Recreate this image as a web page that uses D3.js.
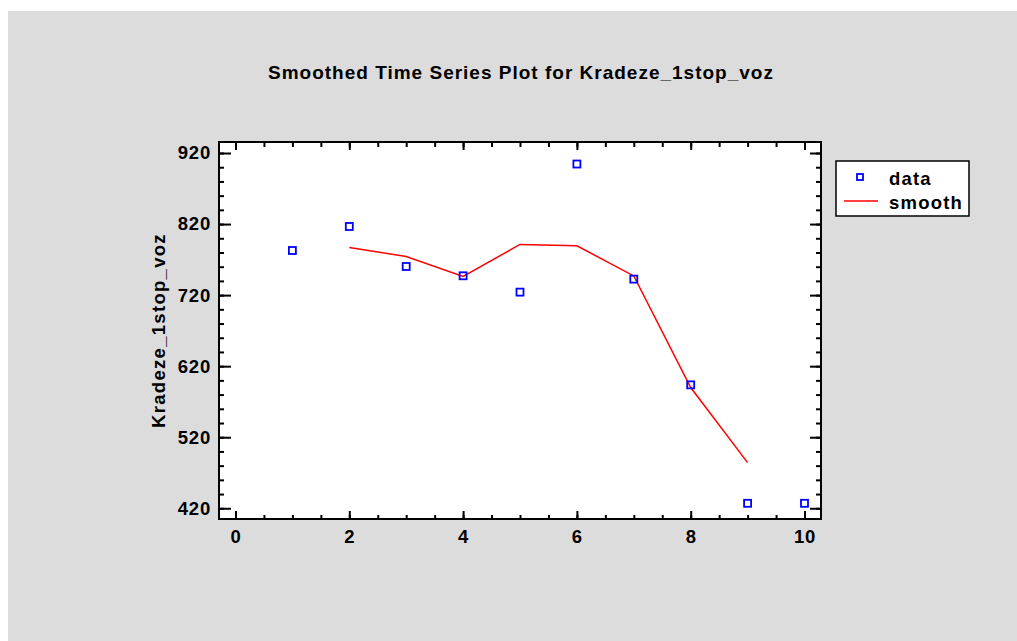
<!DOCTYPE html>
<meta charset="utf-8">
<style>
body { margin: 0; background: #fff; }
text { font-family: "Liberation Sans", Arial, sans-serif; font-weight: bold; fill: #000; }
.axis path.domain { display: none; }
.axis line { stroke: #000; stroke-width: 2; }
.axis text { font-size: 18.5px; letter-spacing: 0.8px; }
</style>
<svg width="1017" height="641"></svg>
<script src="https://d3js.org/d3.v7.min.js"></script>
<script>

// observed series
var periods = [1, 2, 3, 4, 5, 6, 7, 8, 9, 10];
var dataValues = [782.8, 816.6, 760.3, 747.2, 724.2, 904.5, 742.5, 593.7, 427, 427];
// smoothed series (defined for periods 2..9)
var smoothPeriods = [2, 3, 4, 5, 6, 7, 8, 9];
var smoothValues = [787, 774.4, 746.2, 791.3, 789.4, 747, 590, 484.2];

var xTicks = [0, 2, 4, 6, 8, 10];
var yTicks = [420, 520, 620, 720, 820, 920];

var svg = d3.select("svg");

svg.append("rect")
    .attr("x", 8).attr("y", 11)
    .attr("width", 1017 - 8).attr("height", 641 - 11)
    .attr("fill", "#dcdcdc");

var margin = {top: 142, left: 219, right: 1017 - 821, bottom: 641 - 519},
    width = 1017 - margin.left - margin.right,
    height = 641 - margin.top - margin.bottom;

var x = d3.scaleLinear().domain([-0.29, 10.29]).range([0, width]),
    y = d3.scaleLinear().domain([404.9, 935.5]).range([height, 0]);

var g = svg.append("g")
    .attr("transform", "translate(" + margin.left + "," + margin.top + ")");

g.append("rect")
    .attr("width", width).attr("height", height)
    .attr("fill", "#fff");

var xMinor = d3.range(0, 10.01, 0.5),
    yMinor = d3.range(420, 930, 20);

// bottom
g.append("g").attr("class", "axis")
    .attr("transform", "translate(0," + height + ")")
    .call(d3.axisBottom(x).tickValues(xMinor).tickSize(-4).tickFormat(""));
g.append("g").attr("class", "axis")
    .attr("transform", "translate(0," + height + ")")
    .call(d3.axisBottom(x).tickValues(xTicks).tickSize(-8).tickPadding(11).tickFormat(d3.format("d")));
// top
g.append("g").attr("class", "axis")
    .call(d3.axisTop(x).tickValues(xMinor).tickSize(-5).tickFormat(""));
g.append("g").attr("class", "axis")
    .call(d3.axisTop(x).tickValues(xTicks).tickSize(-8).tickFormat(""));
// left
g.append("g").attr("class", "axis")
    .call(d3.axisLeft(y).tickValues(yMinor).tickSize(-5).tickFormat(""));
g.append("g").attr("class", "axis")
    .call(d3.axisLeft(y).tickValues(yTicks).tickSize(-12).tickPadding(8).tickFormat(d3.format("d")));
// right
g.append("g").attr("class", "axis")
    .attr("transform", "translate(" + width + ",0)")
    .call(d3.axisRight(y).tickValues(yMinor).tickSize(-5).tickFormat(""));
g.append("g").attr("class", "axis")
    .attr("transform", "translate(" + width + ",0)")
    .call(d3.axisRight(y).tickValues(yTicks).tickSize(-11).tickFormat(""));

g.append("rect")
    .attr("width", width).attr("height", height)
    .attr("fill", "none").attr("stroke", "#000").attr("stroke-width", 2);

var line = d3.line()
    .x(function(d, i) { return x(smoothPeriods[i]); })
    .y(function(d) { return y(d); });

g.append("path")
    .datum(smoothValues)
    .attr("fill", "none")
    .attr("stroke", "#ff0000")
    .attr("stroke-width", 1.5)
    .attr("d", line);

g.selectAll(".pt")
    .data(dataValues)
  .enter().append("rect")
    .attr("class", "pt")
    .attr("x", function(d, i) { return x(periods[i]) - 3.5; })
    .attr("y", function(d) { return y(d) - 3.5; })
    .attr("width", 7).attr("height", 7)
    .attr("fill", "none")
    .attr("stroke", "#0000ff")
    .attr("stroke-width", 1.8);

// title
svg.append("text")
    .attr("x", 521).attr("y", 79)
    .attr("text-anchor", "middle")
    .style("font-size", "19px")
    .style("letter-spacing", "1px")
    .text("Smoothed Time Series Plot for Kradeze_1stop_voz");

// y label
svg.append("text")
    .attr("transform", "translate(165," + (margin.top + height / 2) + ") rotate(-90)")
    .attr("text-anchor", "middle")
    .style("font-size", "18.5px")
    .style("letter-spacing", "1.3px")
    .text("Kradeze_1stop_voz");

// legend
var lg = svg.append("g").attr("transform", "translate(836,161)");
lg.append("rect")
    .attr("width", 133).attr("height", 55)
    .attr("fill", "#fff").attr("stroke", "#000").attr("stroke-width", 1.5);
lg.append("rect")
    .attr("x", 21).attr("y", 13).attr("width", 6).attr("height", 6)
    .attr("fill", "none").attr("stroke", "#0000ff").attr("stroke-width", 1.8);
lg.append("line")
    .attr("x1", 8).attr("x2", 42).attr("y1", 40).attr("y2", 40)
    .attr("stroke", "#ff0000").attr("stroke-width", 1.5);
lg.append("text").attr("x", 53).attr("y", 24)
    .style("font-size", "18.5px").style("letter-spacing", "1.2px").text("data");
lg.append("text").attr("x", 53).attr("y", 48)
    .style("font-size", "18.5px").style("letter-spacing", "1.2px").text("smooth");

</script>
